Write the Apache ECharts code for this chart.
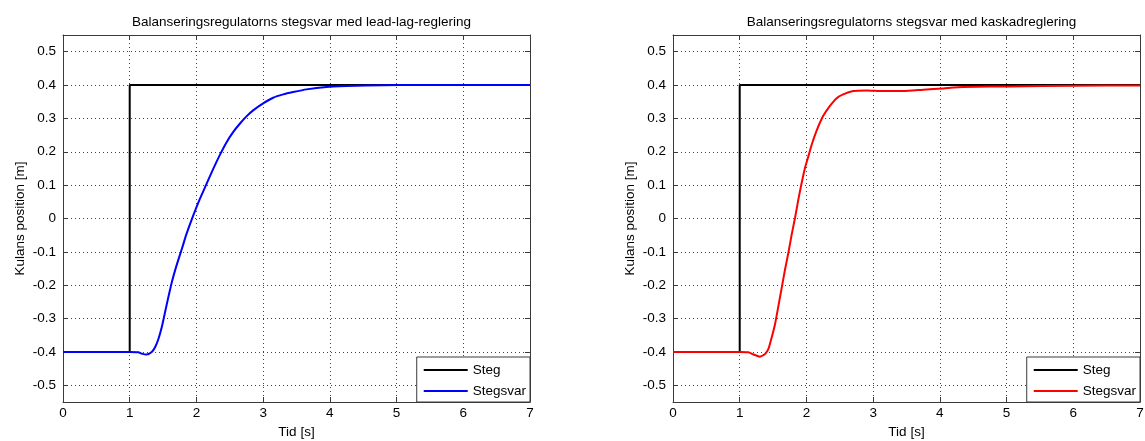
<!DOCTYPE html>
<html>
<head>
<meta charset="utf-8">
<script src="https://cdn.jsdelivr.net/npm/echarts@6/dist/echarts.min.js"></script>
<style>
html,body{margin:0;padding:0;background:#fff;}
#chart{width:1145px;height:441px;}
</style>
</head>
<body>
<div id="chart"></div>
<script>
// ---- data ----
const titles = ['Balanseringsregulatorns stegsvar med lead-lag-reglering', 'Balanseringsregulatorns stegsvar med kaskadreglering'];
const xTicks = [0, 1, 2, 3, 4, 5, 6, 7];
const yTicks = [-0.5, -0.4, -0.3, -0.2, -0.1, 0, 0.1, 0.2, 0.3, 0.4, 0.5];
const stepT = [0, 1, 1, 7];
const stepV = [-0.4, -0.4, 0.4, 0.4];
const leadT = [0, 1.0, 1.13, 1.18, 1.25, 1.33, 1.38, 1.43, 1.48, 1.55, 1.63, 1.70, 1.78, 1.85, 1.95, 2.05, 2.15, 2.25, 2.35, 2.45, 2.55, 2.65, 2.75, 2.85, 3.0, 3.15, 3.3, 3.45, 3.65, 3.95, 4.25, 4.55, 5.05, 6.0, 7.0];
const leadV = [-0.4, -0.4, -0.401, -0.405, -0.408, -0.4, -0.386, -0.361, -0.326, -0.262, -0.192, -0.142, -0.092, -0.047, 0.008, 0.058, 0.103, 0.148, 0.190, 0.228, 0.259, 0.284, 0.306, 0.324, 0.345, 0.362, 0.372, 0.379, 0.387, 0.394, 0.397, 0.399, 0.4, 0.4, 0.4];
const kaskT = [0, 1.0, 1.13, 1.2, 1.3, 1.38, 1.43, 1.48, 1.53, 1.58, 1.63, 1.68, 1.73, 1.78, 1.83, 1.88, 1.93, 1.98, 2.03, 2.08, 2.15, 2.25, 2.35, 2.45, 2.55, 2.7, 2.9, 3.15, 3.45, 3.75, 4.05, 4.35, 4.75, 5.05, 6.0, 7.0];
const kaskV = [-0.4, -0.4, -0.401, -0.407, -0.414, -0.406, -0.391, -0.356, -0.316, -0.262, -0.207, -0.152, -0.102, -0.047, 0.003, 0.058, 0.108, 0.153, 0.187, 0.222, 0.262, 0.307, 0.337, 0.360, 0.372, 0.382, 0.384, 0.382, 0.382, 0.386, 0.390, 0.394, 0.396, 0.396, 0.398, 0.399];
const seriesNames = ['Steg', 'Stegsvar'];
const respColors = ['#0000ff', '#ff0000'];

const pairs = (t, v) => t.map((x, i) => [x, v[i]]);
const font = 'Liberation Sans, Arial, Helvetica, sans-serif';
const fs = 13.5;
const frame = '#3a3a3a';
const gridLeft = [63, 673];
const gridW = 467;
const fmt = v => {
  const r = Math.round(v * 10) / 10;
  return r === 0 ? '0' : String(r);
};

const grids = [], xAxes = [], yAxes = [], series = [], legends = [], titleArr = [];
for (let g = 0; g < 2; g++) {
  grids.push({ left: gridLeft[g], top: 35, width: gridW, height: 367, containLabel: false, outerBoundsMode: 'none' });
  titleArr.push({
    text: titles[g], left: gridLeft[g] + gridW / 2, top: 10, textAlign: 'center',
    textStyle: { fontFamily: font, fontSize: fs, fontWeight: 'normal', color: '#000' }
  });
  const xBase = {
    type: 'value', gridIndex: g, min: 0, max: 7, interval: 1,
    axisLine: { show: true, onZero: false, lineStyle: { color: frame, width: 1 } },
    axisTick: { show: true, inside: true, length: 5, lineStyle: { color: frame } },
  };
  xAxes.push(Object.assign({}, xBase, {
    position: 'bottom',
    name: 'Tid [s]', nameLocation: 'middle', nameGap: 19,
    nameTextStyle: { fontFamily: font, fontSize: fs, color: '#000' },
    axisLabel: { show: true, margin: 4, fontFamily: font, fontSize: fs, color: '#000', formatter: v => String(v) },
    splitLine: { show: true, lineStyle: { type: [1, 3], color: '#444', width: 1 } }
  }));
  xAxes.push(Object.assign({}, xBase, {
    position: 'top', axisLabel: { show: false }, splitLine: { show: false }
  }));
  const yBase = {
    type: 'value', gridIndex: g, min: -0.55, max: 0.55,
    axisLine: { show: true, onZero: false, lineStyle: { color: frame, width: 1 } },
    axisTick: { show: true, inside: true, length: 5, lineStyle: { color: frame }, customValues: yTicks },
  };
  yAxes.push(Object.assign({}, yBase, {
    position: 'left',
    name: 'Kulans position [m]', nameLocation: 'middle', nameGap: 36, nameRotate: 90,
    nameTextStyle: { fontFamily: font, fontSize: fs, color: '#000' },
    axisLabel: { show: true, margin: 7, fontFamily: font, fontSize: fs, color: '#000', customValues: yTicks, formatter: fmt },
    splitLine: { show: true, lineStyle: { type: [1, 3], color: '#444', width: 1 } }
  }));
  yAxes.push(Object.assign({}, yBase, {
    position: 'right', axisLabel: { show: false }, splitLine: { show: false }
  }));
  const xi = g * 2, yi = g * 2;
  series.push({
    name: seriesNames[0], type: 'line', xAxisIndex: xi, yAxisIndex: yi,
    data: pairs(stepT, stepV), showSymbol: false, symbol: 'none',
    lineStyle: { color: '#000', width: 2 }, itemStyle: { color: '#000' }, animation: false
  });
  series.push({
    name: seriesNames[1], type: 'line', xAxisIndex: xi, yAxisIndex: yi,
    data: g === 0 ? pairs(leadT, leadV) : pairs(kaskT, kaskV),
    showSymbol: false, symbol: 'none', smooth: 0.2,
    lineStyle: { color: respColors[g], width: 2 }, itemStyle: { color: respColors[g] }, animation: false
  });
  legends.push({
    data: [
      { name: seriesNames[0], icon: 'rect', itemStyle: { color: '#000', borderWidth: 0 } },
      { name: seriesNames[1], icon: 'rect', itemStyle: { color: respColors[g], borderWidth: 0 } }
    ],
    orient: 'vertical', right: 1145 - (gridLeft[g] + gridW), bottom: 39,
    backgroundColor: '#fff', borderColor: frame, borderWidth: 1, borderRadius: 0,
    padding: [6, 4, 4, 7], itemGap: 7, itemWidth: 44, itemHeight: 2, itemStyle: { borderWidth: 0 },
    textStyle: { fontFamily: font, fontSize: fs, color: '#000', lineHeight: 14 },
    selectedMode: false
  });
}
const chart = echarts.init(document.getElementById('chart'), null, { renderer: 'canvas' });
chart.setOption({
  animation: false,
  backgroundColor: '#fff',
  title: titleArr,
  grid: grids,
  xAxis: xAxes,
  yAxis: yAxes,
  legend: legends,
  series: series
});
</script>
</body>
</html>
